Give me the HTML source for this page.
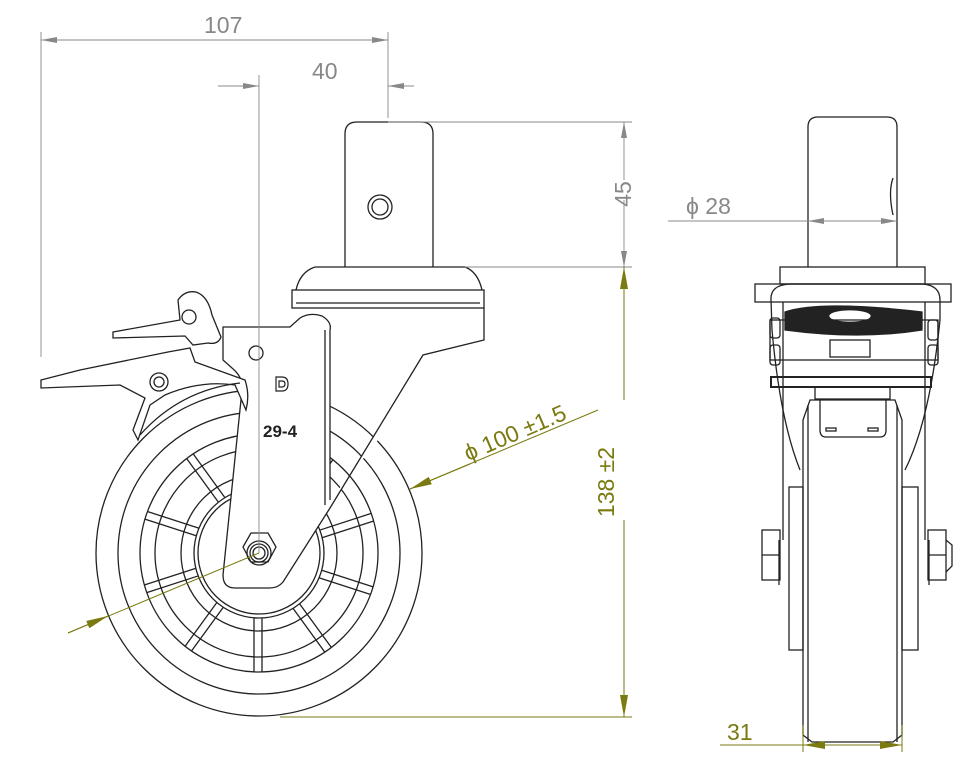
<!DOCTYPE html>
<html><head><style>html,body{margin:0;padding:0;background:#fff}svg{display:block}</style></head>
<body>
<svg width="965" height="761" viewBox="0 0 965 761" xmlns="http://www.w3.org/2000/svg" font-family="Liberation Sans, sans-serif">
<defs>
<marker id="ag" markerWidth="16" markerHeight="6" refX="16" refY="3" orient="auto-start-reverse" markerUnits="userSpaceOnUse"><path d="M0,0 L16,3 L0,6z" fill="#888"/></marker>
<marker id="ao" markerWidth="22" markerHeight="8" refX="22" refY="4" orient="auto-start-reverse" markerUnits="userSpaceOnUse"><path d="M0,0 L22,4 L0,8z" fill="#7a7a10"/></marker>
</defs>
<g fill="none" stroke="#222" stroke-width="1.3">
<circle cx="259" cy="553" r="163"/>
<circle cx="259" cy="553" r="141"/>
<circle cx="259" cy="553" r="119"/>
<circle cx="259" cy="553" r="104"/>
<circle cx="259" cy="553" r="78"/>
<circle cx="259" cy="553" r="65"/>
<circle cx="259" cy="553" r="61"/>
<g id="sp">
<path d="M256,434 L256,488 M264,434 L264,488"/>
</g>
<use href="#sp" transform="rotate(36 259 553)"/><use href="#sp" transform="rotate(72 259 553)"/><use href="#sp" transform="rotate(108 259 553)"/><use href="#sp" transform="rotate(144 259 553)"/><use href="#sp" transform="rotate(180 259 553)"/><use href="#sp" transform="rotate(216 259 553)"/><use href="#sp" transform="rotate(252 259 553)"/><use href="#sp" transform="rotate(288 259 553)"/><use href="#sp" transform="rotate(324 259 553)"/>
<path d="M345,267 L345,134 Q345,122 357,122 L421,122 Q433,122 433,134 L433,267" fill="#fff"/>
<circle cx="380" cy="207" r="12"/><circle cx="380" cy="207" r="8"/>
<path d="M315,267 L465,267 Q478,272 482,290" />
<path d="M315,267 Q300,272 296,290"/>
<rect x="292" y="290" width="192" height="18"/>
<line x1="296" y1="303" x2="480" y2="303"/>
<path d="M484,308 L484,340 L423,355 L330,508 L283,582 Q278,588 270,588 L235,588 Q223,588 223,575 L242,390 Q244,378 232,368 L223,360 L223,327 L290,327 L300,318 Q310,312 322,316 Q332,322 330,330 L330,500" fill="#fff"/>
<path d="M325,330 L325,505"/>
<polygon points="243,547 251,533 268,533 276,547 268,562 251,562" fill="#fff"/>
<circle cx="259" cy="553" r="12"/><circle cx="259" cy="553" r="9"/><circle cx="259" cy="553" r="6"/>
<circle cx="256" cy="353" r="7"/>
<path d="M113,332 L180,320 L178,300 Q185,290 196,292 Q208,296 212,315 L221,337 Q218,345 208,343 L193,345 L185,336 L113,338z" fill="#fff"/>
<circle cx="189" cy="317" r="7"/>
<path d="M41,380 L80,370 L168,352 L190,348 L195,362 L245,380 Q250,395 246,410 L235,385 Q200,380 165,395 L150,405 L138,440 L133,430 L145,398 L120,385 L41,388z" fill="#fff"/>
<circle cx="159" cy="382" r="9"/><circle cx="159" cy="382" r="5"/>
<path d="M140,435 Q180,390 240,383"/>
</g>
<g stroke="#222" fill="none" stroke-width="1.2"><path d="M276,377 h6 q6,0 6,7 q0,7 -6,7 h-6z M279,381 h3 q3,0 3,3 q0,3 -3,3 h-3z"/></g>
<text x="263" y="437" font-size="17" fill="#222" font-weight="bold">29-4</text>

<g fill="none" stroke="#222" stroke-width="1.3">
<path d="M808,267 L808,127 Q808,117 818,117 L887,117 Q897,117 897,127 L897,267"/>
<path d="M893,178 Q888,192 893,215"/>
<rect x="780" y="267" width="145" height="17"/>
<path d="M771,300 Q770,285 790,284 L922,284 Q940,285 940,300 L940,320 Q930,420 905,470 M771,300 L772,330 Q780,420 800,470"/>
<rect x="755" y="284" width="196" height="18"/>
<path d="M783,302 L783,540 M925,302 L925,540 M779,540 L779,585 M929,540 L929,585"/>
<path d="M785,312 Q820,300 922,312 L922,330 Q860,340 785,330z" fill="#222"/>
<ellipse cx="850" cy="316" rx="20" ry="5" fill="#fff" stroke="#fff"/>
<rect x="770" y="320" width="168" height="40"/>
<rect x="830" y="340" width="40" height="17"/>
<rect x="770" y="318" width="10" height="20" rx="3"/><rect x="928" y="320" width="10" height="20" rx="3"/>
<rect x="770" y="345" width="10" height="20" rx="3"/><rect x="928" y="345" width="10" height="20" rx="3"/>
<rect x="771" y="377" width="160" height="10" stroke-width="2"/>
<rect x="815" y="387" width="75" height="12"/>
<path d="M820,399 L820,430 Q820,437 826,437 L880,437 Q886,437 886,430 L886,399"/>
<rect x="826" y="428" width="10" height="3"/><rect x="868" y="428" width="10" height="3"/>
<path d="M803,420 L803,735 L812,742 L893,742 L902,735 L902,420 L895,400 L810,400z"/>
<line x1="808" y1="405" x2="808" y2="742"/><line x1="897" y1="405" x2="897" y2="742"/>
<rect x="789" y="487" width="14" height="163"/><rect x="902" y="487" width="16" height="163"/>
<rect x="762" y="530" width="18" height="50"/><rect x="928" y="530" width="18" height="50"/>
<line x1="762" y1="555" x2="780" y2="555"/><line x1="928" y1="555" x2="946" y2="555"/>
<path d="M946,540 L952,545 L952,566 L946,572"/>
</g>

<g stroke="#888" stroke-width="0.9" fill="none">
<line x1="41" y1="32" x2="41" y2="357"/>
<line x1="388" y1="32" x2="388" y2="118"/>
<line x1="41" y1="40" x2="388" y2="40" marker-start="url(#ag)" marker-end="url(#ag)" />
<line x1="259" y1="75" x2="259" y2="553"/>
<line x1="218" y1="86" x2="259" y2="86" marker-end="url(#ag)"/>
<line x1="414" y1="86" x2="388" y2="86" marker-end="url(#ag)"/>
<line x1="388" y1="122" x2="632" y2="122"/>
<line x1="465" y1="267" x2="632" y2="267"/>
<line x1="624" y1="180" x2="624" y2="122" marker-end="url(#ag)"/>
<line x1="624" y1="200" x2="624" y2="267" marker-end="url(#ag)"/>
<line x1="668" y1="221" x2="808" y2="221"/>
<line x1="850" y1="221" x2="808" y2="221" marker-end="url(#ag)"/>
<line x1="850" y1="221" x2="897" y2="221" marker-end="url(#ag)"/>
</g>
<g fill="#888" font-size="23">
<text x="204" y="33">107</text>
<text x="312" y="79">40</text>
<text x="618" y="207" transform="rotate(-90 618 194)" text-anchor="middle">45</text>
<text x="686" y="214">ϕ 28</text>
</g>
<g stroke="#7a7a10" stroke-width="1" fill="none">
<line x1="280" y1="717" x2="632" y2="717"/>
<line x1="624" y1="400" x2="624" y2="267" marker-end="url(#ao)"/>
<line x1="624" y1="520" x2="624" y2="717" marker-end="url(#ao)"/>
<line x1="598" y1="410" x2="410" y2="489" />
<line x1="470" y1="464" x2="410" y2="489" marker-end="url(#ao)"/>
<line x1="68" y1="633" x2="259" y2="553"/>
<line x1="68" y1="633" x2="108" y2="616" marker-end="url(#ao)"/>
<line x1="803" y1="725" x2="803" y2="752"/>
<line x1="902" y1="725" x2="902" y2="752"/>
<line x1="720" y1="745" x2="803" y2="745"/>
<line x1="850" y1="745" x2="803" y2="745" marker-end="url(#ao)"/>
<line x1="850" y1="745" x2="902" y2="745" marker-end="url(#ao)"/>
</g>
<g fill="#7a7a10" font-size="23">
<text x="518" y="440" transform="rotate(-23 518 440)" text-anchor="middle">ϕ 100 ±1.5</text>
<text x="614" y="482" transform="rotate(-90 614 482)" text-anchor="middle">138 ±2</text>
<text x="727" y="740">31</text>
</g>
</svg>
</body></html>
